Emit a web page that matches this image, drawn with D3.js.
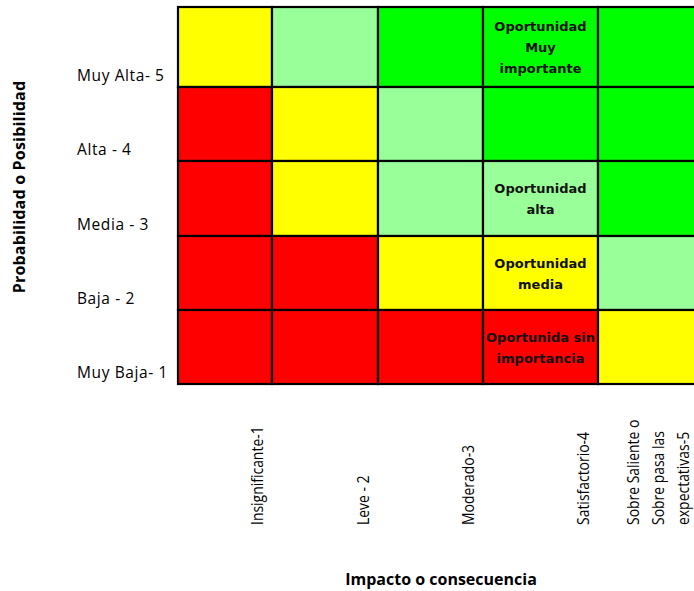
<!DOCTYPE html>
<html><head><meta charset="utf-8">
<script src="https://cdn.jsdelivr.net/npm/d3@7"></script>
<style>body{margin:0;background:#fff}svg{display:block}</style>
</head><body>
<div id="chart"></div>
<script>
// Data
const impactCategories = ["Insignificante-1", "Leve - 2", "Moderado-3", "Satisfactorio-4", "Sobre Saliente o|Sobre pasa las|expectativas-5"];
const probCategories = ["Muy Alta- 5", "Alta - 4", "Media - 3", "Baja - 2", "Muy Baja- 1"];
// level per row (top to bottom), per column
const levelRow5 = ["media", "alta", "muy", "muy", "muy"];
const levelRow4 = ["sin", "media", "alta", "muy", "muy"];
const levelRow3 = ["sin", "media", "alta", "alta", "muy"];
const levelRow2 = ["sin", "sin", "media", "media", "alta"];
const levelRow1 = ["sin", "sin", "sin", "sin", "media"];
const levels = [levelRow5, levelRow4, levelRow3, levelRow2, levelRow1];
const levelNames = ["sin", "media", "alta", "muy"];
const cellLabels = [
  {row: "Muy Alta- 5", col: "Satisfactorio-4", text: ["Oportunidad", "Muy", "importante"]},
  {row: "Media - 3", col: "Satisfactorio-4", text: ["Oportunidad", "alta"]},
  {row: "Baja - 2", col: "Satisfactorio-4", text: ["Oportunidad", "media"]},
  {row: "Muy Baja- 1", col: "Satisfactorio-4", text: ["Oportunida sin", "importancia"]}
];
const yTitle = "Probabilidad o Posibilidad";
const xTitle = "Impacto o consecuencia";

// Layout (sheet column widths / row heights)
const colWidths = [94, 106, 105, 115, 120];
const rowHeights = [80, 74, 75, 74, 74];
const gridLeft = 178, gridTop = 7;
const levelColors = ["#FF0000", "#FFFF00", "#99FF99", "#00FF00"];

const W = 694, H = 591;
const svg = d3.select("#chart").append("svg").attr("width", W).attr("height", H);

const colStarts = colWidths.map((w, i) => gridLeft + d3.sum(colWidths.slice(0, i)));
const rowStarts = rowHeights.map((h, i) => gridTop + d3.sum(rowHeights.slice(0, i)));
const x = d3.scaleOrdinal().domain(impactCategories).range(colStarts);
const xw = d3.scaleOrdinal().domain(impactCategories).range(colWidths);
const y = d3.scaleOrdinal().domain(probCategories).range(rowStarts);
const yh = d3.scaleOrdinal().domain(probCategories).range(rowHeights);
const color = d3.scaleOrdinal().domain(levelNames).range(levelColors);

const cells = [];
probCategories.forEach((p, i) => impactCategories.forEach((c, j) => cells.push({p, c, level: levels[i][j]})));

svg.append("g").selectAll("rect").data(cells).join("rect")
  .attr("x", d => x(d.c)).attr("y", d => y(d.p))
  .attr("width", d => xw(d.c)).attr("height", d => yh(d.p))
  .attr("fill", d => color(d.level))
  .attr("stroke", "#000").attr("stroke-width", 2.2);

// cell labels
const lab = svg.append("g").attr("font-family", "DejaVu Sans, Verdana, sans-serif")
  .attr("font-weight", "bold").attr("font-size", 13).attr("fill", "#111").attr("text-anchor", "middle");
cellLabels.forEach(l => {
  const cx = x(l.col) + xw(l.col) / 2;
  const cy = y(l.row) + yh(l.row) / 2;
  const n = l.text.length, lh = 21;
  l.text.forEach((t, k) => {
    lab.append("text").attr("x", cx).attr("y", cy + (k - (n - 1) / 2) * lh + 5).text(t);
  });
});

// row labels
svg.append("g").attr("font-family", "Open Sans, sans-serif").attr("font-size", 15.5)
  .attr("letter-spacing", 0.6).attr("fill", "#000")
  .selectAll("text").data(probCategories).join("text")
  .attr("x", 77).attr("y", d => y(d) + yh(d) - 6).text(d => d);

// column labels (rotated)
const colG = svg.append("g").attr("font-family", "Open Sans, sans-serif").attr("font-size", 15.5).attr("fill", "#000");
impactCategories.forEach(c => {
  const lines = c.split("|");
  const n = lines.length;
  lines.forEach((t, k) => {
    const xx = n === 1 ? x(c) + xw(c) - 9 : x(c) + xw(c) / 2 + 6 + (k - (n - 1) / 2) * 25;
    colG.append("text").attr("transform", `translate(${xx},525) rotate(-90) scale(0.9,1)`).text(t);
  });
});

// titles
svg.append("text").attr("transform", "translate(25,187) rotate(-90)").attr("text-anchor", "middle")
  .attr("font-family", "Open Sans, sans-serif").attr("font-weight", "bold").attr("font-size", 16)
  .attr("letter-spacing", 0.2).text(yTitle);
svg.append("text").attr("x", 441).attr("y", 585).attr("text-anchor", "middle")
  .attr("font-family", "Open Sans, sans-serif").attr("font-weight", "bold").attr("font-size", 16).text(xTitle);
</script>
</body></html>
